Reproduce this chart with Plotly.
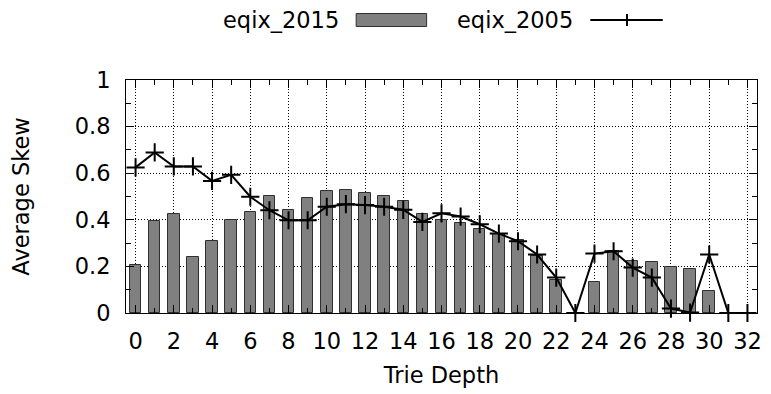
import plotly.graph_objects as go

depth = list(range(33))
eqix_2015 = [0.208, 0.397, 0.425, 0.242, 0.308, 0.401, 0.434, 0.501, 0.441, 0.494,
             0.523, 0.530, 0.517, 0.504, 0.481, 0.423, 0.398, 0.387, 0.361, 0.341,
             0.312, 0.244, 0.143, 0.0, 0.133, 0.265, 0.225, 0.219, 0.199, 0.189,
             0.093, 0.0, 0.0]
eqix_2005 = [0.625, 0.689, 0.629, 0.629, 0.567, 0.593, 0.499, 0.441, 0.398, 0.398,
             0.456, 0.467, 0.463, 0.456, 0.443, 0.391, 0.428, 0.414, 0.381, 0.341,
             0.308, 0.251, 0.152, 0.0, 0.255, 0.265, 0.195, 0.152, 0.019, 0.002,
             0.251, 0.0, 0.0]
x_ticks = list(range(0, 33, 2))
y_ticks = [0, 0.2, 0.4, 0.6, 0.8, 1]
series_names = ["eqix_2015", "eqix_2005"]

FONT = "DejaVu Sans"
FS = 22.5

fig = go.Figure()
fig.add_trace(go.Bar(
    x=depth, y=eqix_2015, name=series_names[0], width=0.6,
    marker=dict(color="#808080", line=dict(color="#303030", width=1)),
    showlegend=False,
))
fig.add_trace(go.Scatter(
    x=depth, y=eqix_2005, name=series_names[1], mode="lines+markers",
    line=dict(color="black", width=2),
    marker=dict(symbol="cross-thin", size=13, color="black",
                line=dict(color="black", width=2)),
    showlegend=False, cliponaxis=False,
))

axis_common = dict(
    showline=True, linecolor="black", linewidth=1, mirror="allticks",
    ticks="inside", ticklen=8, tickwidth=1, tickcolor="black",
    showgrid=True, gridcolor="black", griddash="1px,2px", gridwidth=1,
    zeroline=False,
    tickfont=dict(family=FONT, size=FS, color="black"),
)

fig.update_xaxes(
    range=[-0.5, 32.5], tickmode="array", tickvals=x_ticks,
    ticktext=[str(v) for v in x_ticks],
    minor=dict(dtick=1, ticks="inside", ticklen=5, tickcolor="black", showgrid=False),
    ticklabelstandoff=8,
    title=dict(text="Trie Depth", font=dict(family=FONT, size=FS, color="black"), standoff=14),
    **axis_common,
)
fig.update_yaxes(
    range=[0, 1], tickmode="array", tickvals=y_ticks,
    ticktext=[("%g" % v) for v in y_ticks],
    minor=dict(dtick=0.1, ticks="inside", ticklen=5, tickcolor="black", showgrid=False),
    ticklabelstandoff=10,
    title=dict(text="Average Skew", font=dict(family=FONT, size=FS, color="black"), standoff=38),
    **axis_common,
)

# custom legend (gnuplot style: text then sample)
L, T, W, H = 126, 80, 636, 233
def px(x):
    return (x - L) / W
def py(y):
    return (T + H - y) / H

ly = 20
fig.add_annotation(xref="paper", yref="paper", x=px(343), y=py(ly), text=series_names[0],
                   showarrow=False, xanchor="right", yanchor="middle",
                   font=dict(family=FONT, size=FS, color="black"))
fig.add_shape(type="rect", xref="paper", yref="paper",
              x0=px(358), x1=px(429), y0=py(ly + 6.5), y1=py(ly - 6.5),
              fillcolor="#808080", line=dict(color="#303030", width=1))
fig.add_annotation(xref="paper", yref="paper", x=px(579), y=py(ly), text=series_names[1],
                   showarrow=False, xanchor="right", yanchor="middle",
                   font=dict(family=FONT, size=FS, color="black"))
fig.add_shape(type="line", xref="paper", yref="paper",
              x0=px(594), x1=px(667), y0=py(ly), y1=py(ly),
              line=dict(color="black", width=2))
fig.add_shape(type="line", xref="paper", yref="paper",
              x0=px(631), x1=px(631), y0=py(ly - 6), y1=py(ly + 6),
              line=dict(color="black", width=2))

fig.update_layout(
    width=771, height=394,
    margin=dict(l=L, r=771 - L - W, t=T, b=394 - T - H),
    plot_bgcolor="white", paper_bgcolor="white",
    bargap=0, showlegend=False,
    font=dict(family=FONT, size=FS, color="black"),
)

fig.write_html("out.html")
